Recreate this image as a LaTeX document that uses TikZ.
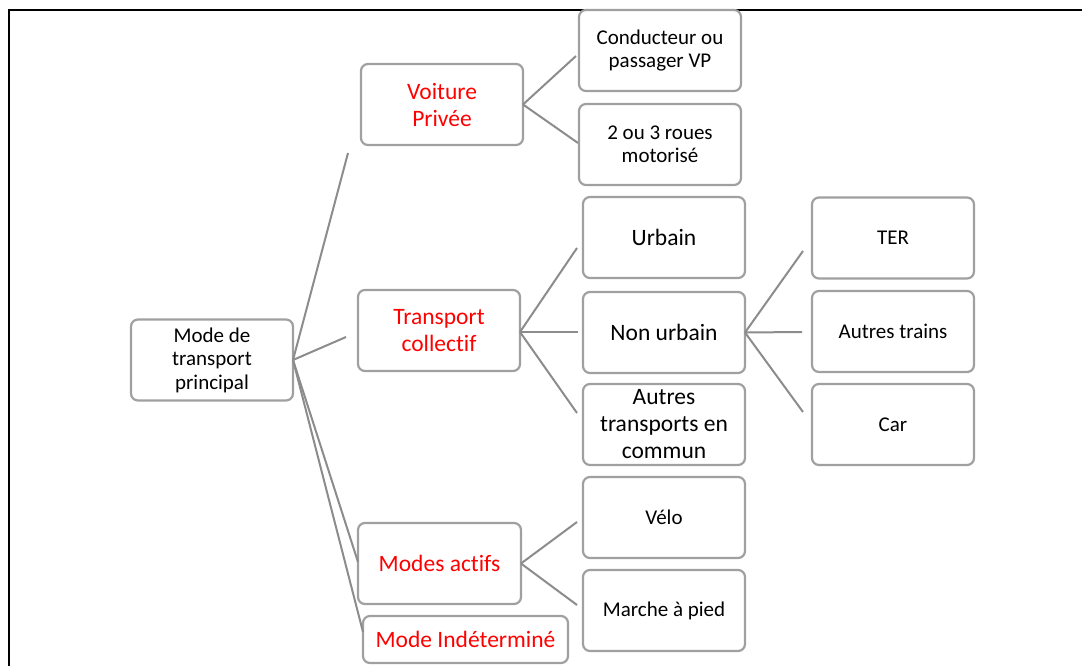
\documentclass[tikz,border=0pt]{standalone}
\usepackage{fontspec}
\setmainfont{Carlito}[Ligatures=NoCommon]
\definecolor{boxgray}{RGB}{160,160,160}
\definecolor{linegray}{RGB}{140,140,140}
\definecolor{redtxt}{RGB}{255,0,0}
\begin{document}
\begin{tikzpicture}[x=1pt,y=-1pt,
  box/.style={draw=boxgray, line width=2.2pt, rounded corners=7pt, fill=white,
    minimum width=162pt, minimum height=81pt, align=center, inner sep=2pt, outer sep=0pt,
    font=\fontsize{21}{23.5}\selectfont},
  bigbox/.style={box, font=\fontsize{23.5}{27}\selectfont},
  redbox/.style={bigbox, text=redtxt},
  conn/.style={draw=linegray, line width=2pt}]
\useasboundingbox (0,0) rectangle (1082,666);
\draw[line width=2.2pt] (9,666) -- (9,10) -- (1082,10);

\node[box] (root) at (212,360) {Mode de\\transport\\principal};
\node[redbox] (vp) at (442,104.5) {Voiture\\Privée};
\node[box] (cond) at (660,50.5) {Conducteur ou\\passager VP};
\node[box] (roues) at (660,144.5) {2 ou 3 roues\\motorisé};
\node[redbox] (tc) at (439,330.5) {Transport\\collectif};
\node[bigbox] (urb) at (664,237.5) {Urbain};
\node[bigbox] (nonurb) at (664,332.5) {Non urbain};
\node[bigbox] (autres) at (664,424.5) {Autres\\transports en\\commun};
\node[box] (ter) at (893,238) {TER};
\node[box] (trains) at (893,331.5) {Autres trains};
\node[box] (car) at (893,424.5) {Car};
\node[redbox, minimum width=163pt] (ma) at (439.5,563.5) {Modes actifs};
\node[redbox, minimum width=205pt, minimum height=47pt] (mi) at (465.5,639.5) {Mode Indéterminé};
\node[box] (velo) at (664,517.5) {Vélo};
\node[box] (marche) at (664,610.5) {Marche à pied};

\coordinate (rvp) at (348,153);
\coordinate (rtc) at (346,337);
\coordinate (rma) at (358,562);
\coordinate (rmi) at (363,632);
\coordinate (vp1) at (576,56);
\coordinate (vp2) at (578,143);
\coordinate (tc1) at (577,248);
\coordinate (tc2) at (578,332);
\coordinate (tc3) at (577,413);
\coordinate (nu1) at (803,251);
\coordinate (nu2) at (802,332);
\coordinate (nu3) at (803,412);
\coordinate (ma1) at (577,522);
\coordinate (ma2) at (577,605);

\foreach \e in {rvp,rtc,rma,rmi} \draw[conn] (root.east) -- (\e);
\foreach \e in {vp1,vp2} \draw[conn] (vp.east) -- (\e);
\foreach \e in {tc1,tc2,tc3} \draw[conn] ([yshift=-1.5pt]tc.east) -- (\e);
\foreach \e in {nu1,nu2,nu3} \draw[conn] (nonurb.east) -- (\e);
\foreach \e in {ma1,ma2} \draw[conn] (ma.east) -- (\e);
\end{tikzpicture}
\end{document}
